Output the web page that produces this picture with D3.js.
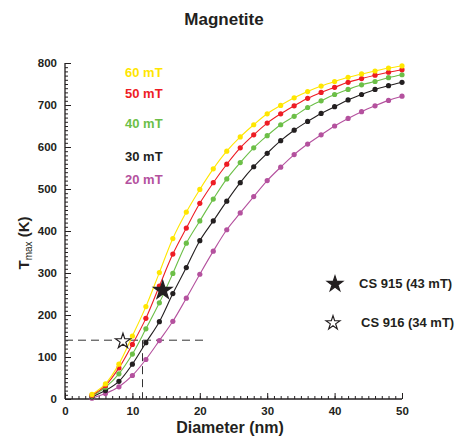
<!DOCTYPE html>
<html><head><meta charset="utf-8">
<script src="https://cdn.jsdelivr.net/npm/d3@7"></script>
<style>body{margin:0;background:#fff}svg{display:block;font-family:"Liberation Sans",Arial,sans-serif}</style>
</head><body>
<svg id="c" width="459" height="436"></svg>
<script>
const diameters = [4,6,8,10,12,14,16,18,20,22,24,26,28,30,32,34,36,38,40,42,44,46,48,50];
const t60 = [11,36,83,150,220,301,382,445,499,548,590,624,653,679,699,717,732,745,756,766,774,781,788,793];
const t50 = [9,32,74,130,192,269,345,407,466,515,559,598,629,657,679,698,716,730,742,754,763,771,778,784];
const t40 = [7,28,60,107,167,229,299,371,424,476,524,563,598,627,653,673,694,710,725,737,748,756,765,772];
const t30 = [5,20,42,83,134,184,251,313,377,424,471,515,553,585,615,640,661,680,696,712,725,737,746,754];
const t20 = [2,13,29,56,94,139,185,240,297,352,403,443,482,520,552,582,607,629,650,668,684,698,711,721];
const fieldLabels = ["60 mT","50 mT","40 mT","30 mT","20 mT"];
const xTicks = [0,10,20,30,40,50];
const yTicks = [0,100,200,300,400,500,600,700,800];
const samples = [{name:"CS 915 (43 mT)", d:14.5, t:261, filled:true},{name:"CS 916 (34 mT)", d:8.6, t:140, filled:false}];
const guideT = 140, guideD = 11.5, guideEnd = 20.5;

const colors = ["#ffe600","#ee1c24","#6cbf47","#231f20","#b4519e"];
const series = [t60,t50,t40,t30,t20];

const svg = d3.select("#c");
const x = d3.scaleLinear().domain([0,50]).range([65,402]);
const y = d3.scaleLinear().domain([0,800]).range([399,63]);

// title
svg.append("text").attr("x",224).attr("y",25).attr("text-anchor","middle")
  .attr("font-size",17).attr("font-weight","bold").attr("fill","#231f20").text("Magnetite");

// axes
const gx = svg.append("g").attr("transform","translate(0,399)");
gx.call(d3.axisBottom(x).tickValues(d3.range(0,51,1)).tickSize(-3).tickFormat(""));
gx.call(g=>g.select(".domain").remove());
const gx2 = svg.append("g").attr("transform","translate(0,399)");
gx2.call(d3.axisBottom(x).tickValues(xTicks).tickSize(-6).tickPadding(8).tickFormat(d3.format("d")));
gx2.selectAll("text").attr("font-size",11.5).attr("font-weight","bold").attr("fill","#231f20").attr("font-family","Liberation Sans, Arial, sans-serif");
gx2.select(".domain").attr("d","M65,0H402").attr("stroke","#231f20").attr("stroke-width",1.3);

const gy = svg.append("g").attr("transform","translate(65,0)");
gy.call(d3.axisLeft(y).tickValues(d3.range(0,801,10)).tickSize(-3).tickFormat(""));
gy.call(g=>g.select(".domain").remove());
const gy2 = svg.append("g").attr("transform","translate(65,0)");
gy2.call(d3.axisLeft(y).tickValues(yTicks).tickSize(-6).tickPadding(8).tickFormat(d3.format("d")));
gy2.selectAll("text").attr("font-size",11.5).attr("font-weight","bold").attr("fill","#231f20").attr("font-family","Liberation Sans, Arial, sans-serif");
gy2.select(".domain").attr("d","M0,63V399").attr("stroke","#231f20").attr("stroke-width",1.3);
svg.selectAll(".tick line").attr("stroke","#231f20");

// axis titles
svg.append("text").attr("x",230).attr("y",433).attr("text-anchor","middle")
  .attr("font-size",16).attr("font-weight","bold").attr("fill","#231f20").text("Diameter (nm)");
const yt = svg.append("text").attr("transform","translate(29,243) rotate(-90)").attr("text-anchor","middle")
  .attr("font-size",15).attr("font-weight","bold").attr("fill","#231f20");
yt.append("tspan").text("T");
yt.append("tspan").attr("font-size",10).attr("font-weight","normal").attr("dy",3).text("max");
yt.append("tspan").attr("dy",-3).text(" (K)");

// dashed guides
svg.append("path").attr("d",`M${x(0)},${y(guideT)}H${x(guideEnd)}M${x(guideD)},${y(guideT)}V${y(0)}`)
  .attr("fill","none").attr("stroke","#333").attr("stroke-width",1).attr("stroke-dasharray","8,5");

// series
const line = d3.line().x((d,i)=>x(diameters[i])).y(d=>y(d)).curve(d3.curveCatmullRom);
series.slice().reverse().forEach((s,k)=>{
  const i = series.length-1-k;
  svg.append("path").attr("d",line(s)).attr("fill","none").attr("stroke",colors[i]).attr("stroke-width",1.1);
  svg.append("g").selectAll("circle").data(s).join("circle")
    .attr("cx",(d,j)=>x(diameters[j])).attr("cy",d=>y(d)).attr("r",2.6).attr("fill",colors[i]);
});

// field legend
const labelY = [72,93,123,156,179];
fieldLabels.forEach((l,i)=>{
  svg.append("text").attr("x",125).attr("y",labelY[i]).attr("dy","0.35em")
    .attr("font-size",13).attr("font-weight","bold").attr("fill",colors[i]).text(l);
});

// samples
const star = d3.symbol().type(d3.symbolStar);
samples.forEach((s,i)=>{
  svg.append("path").attr("d",star.size(s.filled?105:70)())
    .attr("transform",`translate(${x(s.d)},${y(s.t)+1})`)
    .attr("fill",s.filled?"#231f20":"#fff").attr("stroke","#231f20").attr("stroke-width",1.2);
  const ly = [283,322][i];
  svg.append("path").attr("d",star.size(s.filled?75:60)())
    .attr("transform",`translate(${[335,333][i]},${ly+1})`)
    .attr("fill",s.filled?"#231f20":"#fff").attr("stroke","#231f20").attr("stroke-width",1.2);
  svg.append("text").attr("x",[359,361][i]).attr("y",ly).attr("dy","0.35em")
    .attr("font-size",13).attr("font-weight","bold").attr("fill","#231f20").text(s.name);
});
</script>
</body></html>
